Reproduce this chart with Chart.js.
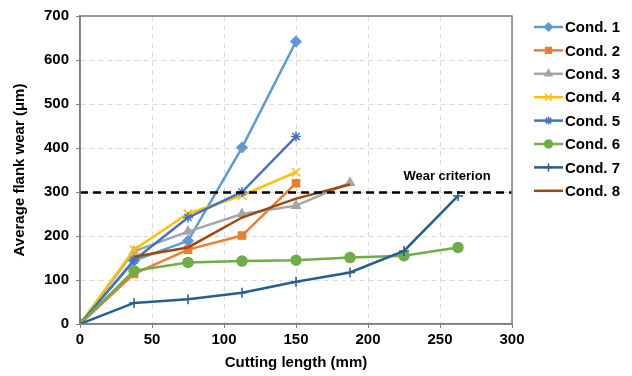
<!DOCTYPE html>
<html>
<head>
<meta charset="utf-8">
<script src="https://cdn.jsdelivr.net/npm/chart.js@4"></script>
<style>
  html, body { margin: 0; padding: 0; background: #fff; }
  #wrap { width: 632px; height: 376px; position: relative; }
</style>
</head>
<body>
<div id="wrap"><canvas id="wearChart"></canvas></div>
<script>
// cutting length (mm) at each measurement
const cuttingLength = [0, 37.5, 75, 112.5, 150, 187.5, 225, 262.5];
const condNames = ['Cond. 1', 'Cond. 2', 'Cond. 3', 'Cond. 4', 'Cond. 5', 'Cond. 6', 'Cond. 7', 'Cond. 8'];
// average flank wear (µm)
const cond1 = [0, 144, 189, 401, 642];
const cond2 = [0, 114, 169, 201, 320];
const cond3 = [0, 165, 210, 250, 269, 321];
const cond4 = [0, 169, 251, 292, 345];
const cond5 = [0, 145, 242, 300, 426];
const cond6 = [0, 121, 140, 143, 145, 151, 155, 174];
const cond7 = [0, 48, 56, 71, 96, 117, 166, 291];
const cond8 = [null, 153, 174, 242, 285, 317];
const wearCriterion = 299;
const xTicks = [0, 50, 100, 150, 200, 250, 300];
const yTicks = [0, 100, 200, 300, 400, 500, 600, 700];

const colors = ['#5B9BD5', '#ED7D31', '#A5A5A5', '#FFC000', '#4472C4', '#70AD47', '#255E91', '#9E480E'];
const markers = ['rectRot', 'rect', 'triangle', 'crossRot', 'star', 'circle', 'cross', false];
const markerSize = [5, 5, 5, 6, 5, 5, 5, 0];
const allSeries = [cond1, cond2, cond3, cond4, cond5, cond6, cond7, cond8];

function toPoints(vals) {
  return vals.map((v, i) => ({ x: cuttingLength[i], y: v }));
}

const datasets = allSeries.map((vals, i) => ({
  label: condNames[i],
  data: toPoints(vals),
  borderColor: colors[i],
  backgroundColor: colors[i],
  borderWidth: 2.5,
  pointStyle: markers[i],
  pointRadius: markerSize[i],
  pointBorderWidth: 1.5,
  spanGaps: false,
  order: 10 - i
}));

datasets.push({
  label: 'Wear criterion',
  data: [{ x: xTicks[0], y: wearCriterion }, { x: xTicks[xTicks.length - 1], y: wearCriterion }],
  borderColor: '#000',
  borderWidth: 2.5,
  borderDash: [8, 5],
  pointRadius: 0,
  order: 0
});

// plot box, criterion label and Excel-like legend
const extras = {
  id: 'extras',
  afterDraw(chart) {
    const ctx = chart.ctx;
    const a = chart.chartArea;
    ctx.save();
    ctx.strokeStyle = '#7f7f7f';
    ctx.lineWidth = 1.5;
    ctx.strokeRect(a.left, a.top, a.right - a.left, a.bottom - a.top);

    ctx.fillStyle = '#000';
    ctx.font = 'bold 13px "Liberation Sans", Arial, sans-serif';
    ctx.textAlign = 'center';
    ctx.textBaseline = 'middle';
    ctx.fillText('Wear criterion', 447, chart.scales.y.getPixelForValue(wearCriterion) - 16);

    ctx.font = 'bold 15px "Liberation Sans", Arial, sans-serif';
    ctx.textAlign = 'left';
    condNames.forEach((name, i) => {
      const y = 27 + i * 23.4;
      ctx.strokeStyle = colors[i];
      ctx.lineWidth = 2.5;
      ctx.setLineDash([]);
      ctx.beginPath();
      ctx.moveTo(534, y);
      ctx.lineTo(563, y);
      ctx.stroke();
      if (markers[i]) {
        ctx.fillStyle = colors[i];
        ctx.lineWidth = 1.5;
        Chart.helpers.drawPoint(ctx, { pointStyle: markers[i], radius: markerSize[i] - 1, borderWidth: 1.5, rotation: 0 }, 548.5, y);
      }
      ctx.fillStyle = '#000';
      ctx.fillText(name, 565, y + 1);
    });
    ctx.restore();
  }
};

const tickFont = { family: '"Liberation Sans", Arial, sans-serif', size: 15, weight: 'bold' };

new Chart(document.getElementById('wearChart'), {
  type: 'line',
  data: { datasets },
  options: {
    responsive: true,
    maintainAspectRatio: false,
    animation: false,
    layout: { padding: { left: 11, right: 120, top: 11, bottom: 4 } },
    plugins: {
      legend: { display: false },
      tooltip: { enabled: false }
    },
    scales: {
      x: {
        type: 'linear',
        min: xTicks[0],
        max: xTicks[xTicks.length - 1],
        afterBuildTicks: s => { s.ticks = xTicks.map(v => ({ value: v })); },
        ticks: { font: tickFont, color: '#000', padding: 3, maxRotation: 0 },
        grid: { color: '#d9d9d9', tickColor: '#7f7f7f', tickLength: 4 },
        border: { color: '#7f7f7f', width: 1.5, dash: [5, 4] },
        title: { display: true, text: 'Cutting length (mm)', font: tickFont, color: '#000', padding: { top: 2, bottom: 0 } }
      },
      y: {
        min: yTicks[0],
        max: yTicks[yTicks.length - 1],
        afterBuildTicks: s => { s.ticks = yTicks.map(v => ({ value: v })); },
        ticks: { font: tickFont, color: '#000', padding: 7 },
        grid: { color: '#d9d9d9', tickColor: '#7f7f7f', tickLength: 4 },
        border: { color: '#7f7f7f', width: 1.5, dash: [5, 4] },
        title: { display: true, text: 'Average flank wear (μm)', font: tickFont, color: '#000', padding: { top: 0, bottom: 8 } }
      }
    }
  },
  plugins: [extras]
});
</script>
</body>
</html>
